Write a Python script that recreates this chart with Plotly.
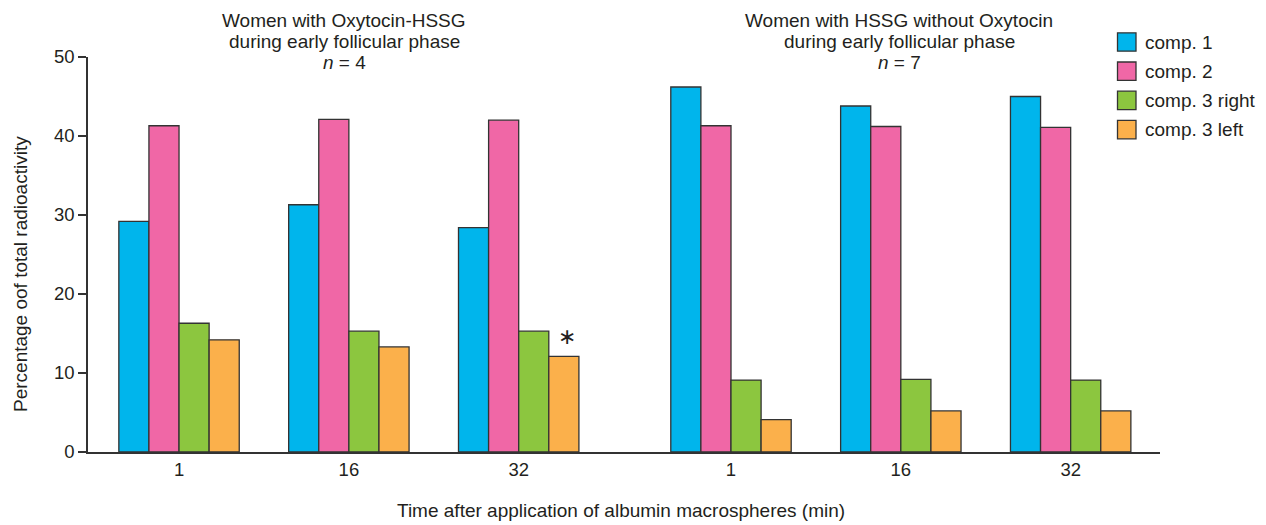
import plotly.graph_objects as go

# --- data -------------------------------------------------------------
time_labels = ["1", "16", "32", "1", "16", "32"]
comp1 = [29.2, 31.3, 28.4, 46.2, 43.8, 45.0]
comp2 = [41.3, 42.1, 42.0, 41.3, 41.2, 41.1]
comp3_right = [16.3, 15.3, 15.3, 9.1, 9.2, 9.1]
comp3_left = [14.2, 13.3, 12.1, 4.1, 5.2, 5.2]

series_names = ["comp. 1", "comp. 2", "comp. 3 right", "comp. 3 left"]
series_values = [comp1, comp2, comp3_right, comp3_left]
series_colors = ["#00B5EC", "#F067A6", "#8CC63F", "#FBB04B"]

group_titles = [
    ["Women with Oxytocin-HSSG", "during early follicular phase", "<i>n</i> = 4"],
    ["Women with HSSG without Oxytocin", "during early follicular phase", "<i>n</i> = 7"],
]

# --- layout geometry ----------------------------------------------------
W, H = 1266, 525
L, R, T, B = 88, 106, 57, 73
FONT = "Liberation Sans, Arial, Helvetica, sans-serif"
INK = "#231F20"
EDGE = "#333333"
TXT = 19

# the two study groups are separated by a wider gap on the x axis
half_gap = 1.25
x_pos = [i if i < 3 else i - 3 + 2 + half_gap for i in range(len(time_labels))]
x_range = [-0.536, 5.776]


def px_x(p):
    return (p - L) / (W - L - R)


def px_y(p):
    return (H - B - p) / (H - T - B)


fig = go.Figure()
for name, vals, col in zip(series_names, series_values, series_colors):
    fig.add_trace(go.Bar(
        x=x_pos, y=vals, name=name,
        marker=dict(color=col, line=dict(color=EDGE, width=1.3)),
        showlegend=False,
    ))

annotations = []

# group headings
for centre_px, lines in zip([344, 899], group_titles):
    for yc, line in zip([20.7, 41.7, 62.7], lines):
        annotations.append(dict(
            x=px_x(centre_px), y=px_y(yc), xref="paper", yref="paper",
            text=line, showarrow=False, xanchor="center", yanchor="middle",
            font=dict(family=FONT, size=TXT, color=INK),
        ))

# significance marker above comp. 3 left, third time point
bar_w = (1 - 0.291) / len(series_names)
annotations.append(dict(
    x=x_pos[2] + 1.5 * bar_w + 0.02, y=comp3_left[2], xref="x", yref="y",
    text="∗", showarrow=False, xanchor="center", yanchor="bottom", yshift=5,
    font=dict(family="DejaVu Sans, sans-serif", size=22, color=INK),
))

# axis titles
annotations.append(dict(
    x=px_x(621), y=px_y(511), xref="paper", yref="paper",
    text="Time after application of albumin macrospheres (min)",
    showarrow=False, xanchor="center", yanchor="middle",
    font=dict(family=FONT, size=TXT, color=INK),
))
annotations.append(dict(
    x=px_x(20), y=px_y(274), xref="paper", yref="paper",
    text="Percentage oof total radioactivity", textangle=-90,
    showarrow=False, xanchor="center", yanchor="middle",
    font=dict(family=FONT, size=TXT, color=INK),
))

# legend: swatches and labels
shapes = []
for i, (name, col) in enumerate(zip(series_names, series_colors)):
    yc = 42 + i * 29.2
    shapes.append(dict(
        type="rect", xref="paper", yref="paper",
        x0=px_x(1117.5), x1=px_x(1136), y0=px_y(yc - 9.2), y1=px_y(yc + 9.2),
        fillcolor=col, line=dict(color=EDGE, width=1.3),
    ))
    annotations.append(dict(
        x=px_x(1143), y=px_y(yc), xref="paper", yref="paper",
        text=name, showarrow=False, xanchor="left", yanchor="middle",
        font=dict(family=FONT, size=TXT, color=INK),
    ))

fig.update_layout(
    width=W, height=H,
    margin=dict(l=L, r=R, t=T, b=B, pad=0),
    paper_bgcolor="white", plot_bgcolor="white",
    barmode="group", bargap=0.291, bargroupgap=0,
    showlegend=False,
    annotations=annotations, shapes=shapes,
    font=dict(family=FONT, size=18, color=INK),
)
fig.update_xaxes(
    range=x_range, tickmode="array", tickvals=x_pos, ticktext=time_labels,
    showline=True, linecolor=EDGE, linewidth=1.5, ticks="",
    showgrid=False, zeroline=False,
    tickfont=dict(family=FONT, size=18.5, color=INK),
)
fig.update_yaxes(
    range=[0, 50], tickmode="array", tickvals=[0, 10, 20, 30, 40, 50],
    showline=True, linecolor=EDGE, linewidth=1.5,
    ticks="outside", ticklen=8, tickwidth=1.5, tickcolor=EDGE,
    showgrid=False, zeroline=False,
    tickfont=dict(family=FONT, size=18.5, color=INK),
)

fig.write_html("out.html")
